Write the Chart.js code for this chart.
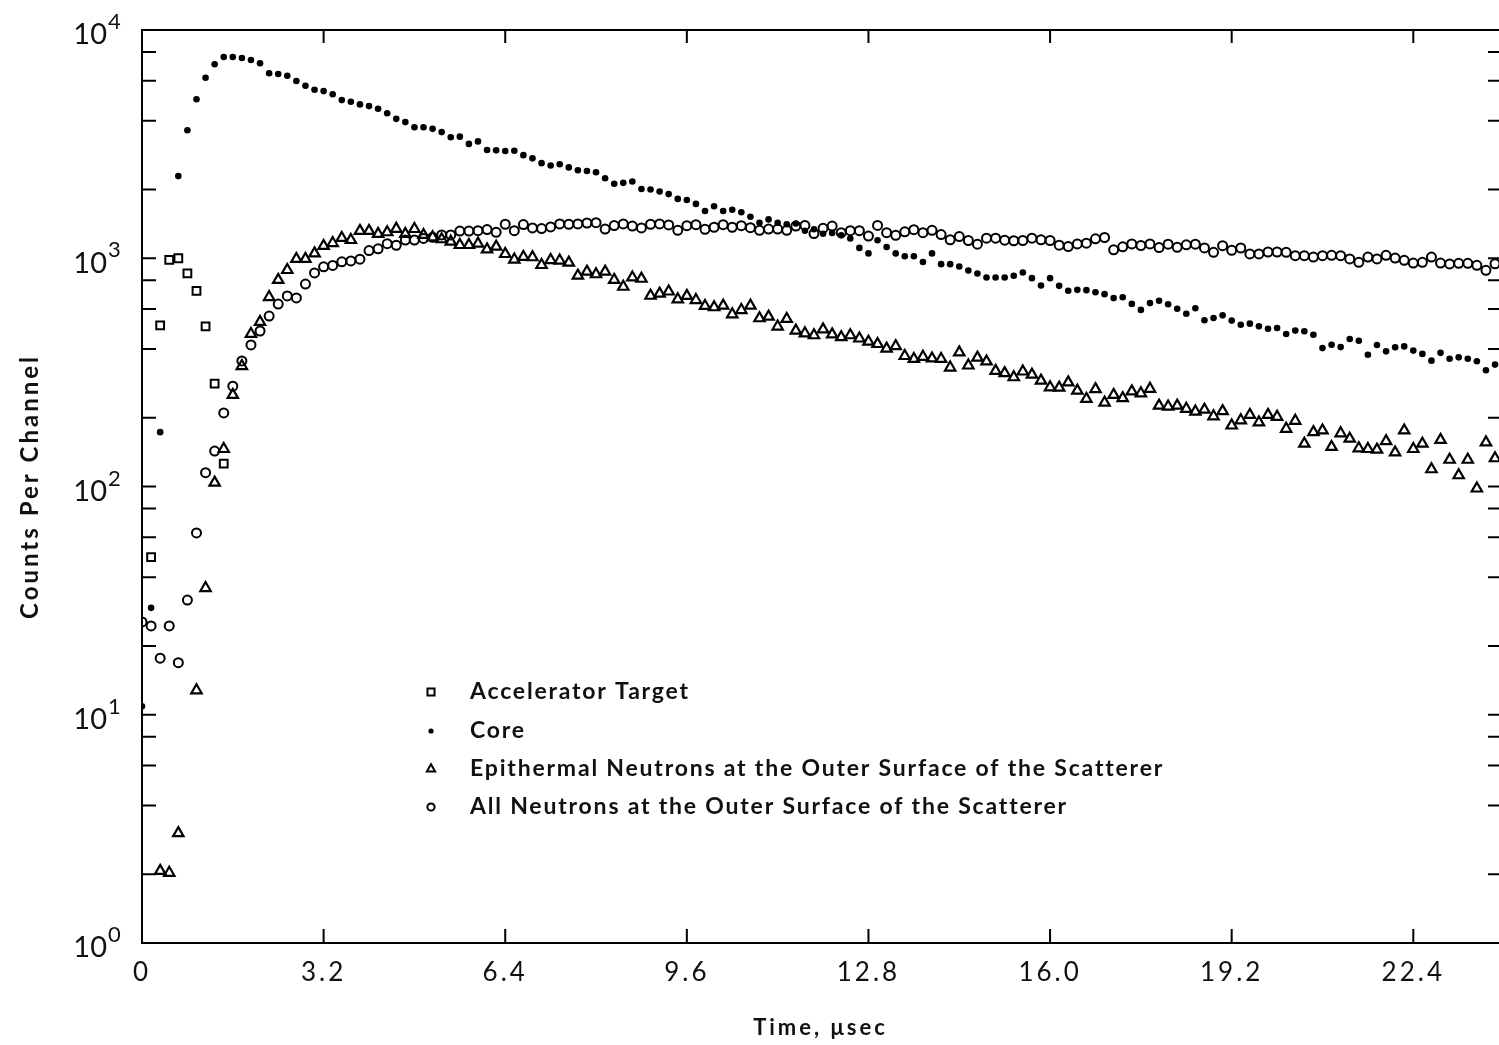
<!DOCTYPE html>
<html>
<head>
<meta charset="utf-8">
<script src="https://cdn.jsdelivr.net/npm/chart.js@4.4.1/dist/chart.umd.min.js"></script>
<style>
  html, body { margin: 0; padding: 0; background: #fff; }
  canvas { display: block; }
</style>
</head>
<body>
<canvas id="decay-chart" width="1499" height="1045"></canvas>
<script>
// analyser channel width, usec; every series below is one value per channel (null = no point)
const channelWidth = 0.16;

const acceleratorTarget = [null, 49, 508, 983, 1000, 859, 719, 503, 282, 126];

const core = [
  10.9, 29.4, 173, null, 2290, 3640, 4970, 6180, 7080, 7620,
  7620, 7540, 7390, 7150, 6460, 6420, 6300, 5980, 5700, 5470,
  5400, 5230, 4930, 4850, 4720, 4640, 4520, 4320, 4080, 3950,
  3750, 3750, 3690, 3570, 3390, 3410, 3170, 3250, 2980, 2970,
  2950, 2960, 2830, 2740, 2610, 2550, 2580, 2500, 2430, 2410,
  2380, 2240, 2120, 2140, 2170, 2010, 2000, 1960, 1910, 1820,
  1800, 1730, 1610, 1690, 1610, 1630, 1590, 1520, 1430, 1480,
  1430, 1410, 1420, 1320, 1340, 1280, 1290, 1260, 1220, 1110,
  1050, 1200, 1120, 1050, 1020, 1020, 963, 1050, 942, 942,
  920, 884, 857, 823, 823, 823, 838, 866, 818, 760,
  818, 757, 720, 727, 725, 710, 696, 669, 675, 631,
  594, 636, 651, 629, 601, 571, 604, 535, 547, 562,
  533, 511, 517, 503, 491, 495, 466, 482, 479, 462,
  404, 418, 408, 443, 435, 378, 417, 391, 407, 411,
  394, 381, 356, 385, 363, 368, 363, 354, 323, 342
];

const epithermal = [
  null, null, 2.07, 2.03, 3.03, null, 12.8, 35.9, 104, 146,
  252, 337, 466, 526, 676, 804, 888, 993, 993, 1050,
  1132, 1166, 1227, 1202, 1318, 1318, 1279, 1300, 1346, 1277,
  1343, 1265, 1236, 1211, 1183, 1143, 1143, 1159, 1094, 1124,
  1044, 987, 1013, 1010, 934, 982, 977, 957, 839, 874,
  851, 874, 804, 750, 824, 813, 685, 700, 715, 661,
  684, 656, 618, 610, 620, 568, 593, 620, 546, 555,
  502, 542, 482, 469, 460, 488, 464, 451, 460, 445,
  431, 421, 402, 412, 373, 362, 370, 364, 362, 332,
  387, 339, 367, 353, 321, 314, 301, 319, 309, 291,
  272, 271, 286, 263, 242, 267, 233, 252, 244, 261,
  256, 268, 226, 224, 226, 219, 213, 217, 203, 214,
  185, 195, 206, 191, 206, 202, 179, 194, 154, 173,
  176, 149, 171, 162, 147, 146, 145, 158, 141, 176,
  146, 154, 119, 160, 131, 112, 131, 98, 156, 133
];

const allNeutrons = [
  25.5, 24.5, 17.7, 24.5, 16.9, 31.8, 62.6, 115, 143, 210,
  275, 355, 417, 480, 558, 630, 684, 670, 771, 862,
  917, 930, 965, 973, 991, 1080, 1100, 1158, 1140, 1202,
  1202, 1222, 1235, 1265, 1265, 1316, 1316, 1321, 1336, 1300,
  1409, 1321, 1404, 1358, 1349, 1371, 1413, 1409, 1413, 1427,
  1432, 1343, 1390, 1413, 1384, 1358, 1409, 1413, 1400, 1325,
  1389, 1403, 1340, 1367, 1403, 1367, 1389, 1361, 1325, 1343,
  1343, 1325, 1384, 1393, 1282, 1352, 1384, 1294, 1321, 1321,
  1251, 1393, 1294, 1260, 1306, 1334, 1294, 1325, 1270, 1205,
  1245, 1196, 1153, 1224, 1224, 1200, 1193, 1196, 1224, 1205,
  1196, 1141, 1125, 1156, 1164, 1217, 1233, 1089, 1122, 1156,
  1137, 1156, 1114, 1153, 1117, 1145, 1153, 1110, 1062, 1135,
  1084, 1109, 1044, 1044, 1065, 1065, 1062, 1026, 1026, 1012,
  1026, 1030, 1026, 993, 960, 1012, 993, 1030, 1002, 979,
  953, 960, 1012, 953, 944, 950, 950, 931, 885, 946
];

const xTickValues = [0, 3.2, 6.4, 9.6, 12.8, 16.0, 19.2, 22.4];
const xTickLabels = ['0', '3.2', '6.4', '9.6', '12.8', '16.0', '19.2', '22.4'];
const yTickValues = [1, 2, 4, 6, 8, 10, 20, 40, 60, 80, 100, 200, 400, 600, 800,
  1000, 2000, 4000, 6000, 8000, 10000];
const yLabelValues = [1, 10, 100, 1000, 10000];
const yLabelExponents = ['0', '1', '2', '3', '4'];

const FONT = 'Lato, "DejaVu Sans", sans-serif';

function toPoints(values) {
  const pts = [];
  values.forEach((v, k) => {
    if (v !== null) pts.push({ x: +(k * channelWidth).toFixed(2), y: v });
  });
  return pts;
}

const framePlugin = {
  id: 'frame',
  beforeDraw(chart) {
    chart.ctx.letterSpacing = '3px';
  },
  afterDraw(chart) {
    const { ctx, chartArea: a, scales: { x, y } } = chart;
    ctx.save();
    ctx.strokeStyle = '#000';
    ctx.lineWidth = 2;

    // top edge of the frame
    ctx.beginPath();
    ctx.moveTo(a.left, a.top);
    ctx.lineTo(a.right, a.top);
    ctx.stroke();

    // inward tick marks on all four sides
    ctx.beginPath();
    xTickValues.forEach(v => {
      if (v === 0) return;
      const px = x.getPixelForValue(v);
      ctx.moveTo(px, a.bottom);
      ctx.lineTo(px, a.bottom - 14);
      ctx.moveTo(px, a.top);
      ctx.lineTo(px, a.top + 13);
    });
    yTickValues.forEach(v => {
      const py = y.getPixelForValue(v);
      ctx.moveTo(a.left, py);
      ctx.lineTo(a.left + 14, py);
      ctx.moveTo(a.right, py);
      ctx.lineTo(a.right - 11, py);
    });
    ctx.stroke();

    // 10^n labels
    ctx.fillStyle = '#111';
    ctx.letterSpacing = '0px';
    yLabelValues.forEach((v, i) => {
      const py = y.getPixelForValue(v);
      ctx.font = '29px ' + FONT;
      ctx.textAlign = 'right';
      ctx.textBaseline = 'middle';
      ctx.fillText('10', a.left - 35, py + 5);
      ctx.font = '22px ' + FONT;
      ctx.textAlign = 'left';
      ctx.fillText(yLabelExponents[i], a.left - 34, py - 8);
    });

    // legend inside the plot
    const rowY = [692, 731, 769, 807];
    const symbolRadius = [5, 2.6, 4.8, 3.6];
    ctx.letterSpacing = '1.8px';
    ctx.font = 'bold 23px ' + FONT;
    ctx.textAlign = 'left';
    ctx.textBaseline = 'middle';
    chart.data.datasets.forEach((ds, i) => {
      ctx.save();
      ctx.lineWidth = 2;
      ctx.strokeStyle = '#000';
      ctx.fillStyle = ds.backgroundColor;
      Chart.helpers.drawPoint(ctx, {
        pointStyle: ds.pointStyle,
        rotation: 0,
        radius: symbolRadius[i],
        borderWidth: ds.borderWidth
      }, 431, rowY[i]);
      ctx.restore();
      ctx.fillText(ds.label, 470, rowY[i]);
    });
    ctx.restore();
  }
};

const hollow = 'rgba(0,0,0,0)';

new Chart(document.getElementById('decay-chart').getContext('2d'), {
  type: 'scatter',
  data: {
    datasets: [{
      label: 'Accelerator Target',
      data: toPoints(acceleratorTarget),
      pointStyle: 'rect',
      pointRadius: 5.5,
      borderWidth: 2,
      borderColor: '#000',
      backgroundColor: hollow,
    }, {
      label: 'Core',
      data: toPoints(core),
      pointStyle: 'circle',
      pointRadius: 3.3,
      borderWidth: 0,
      borderColor: '#000',
      backgroundColor: '#000',
    }, {
      label: 'Epithermal Neutrons at the Outer Surface of the Scatterer',
      data: toPoints(epithermal),
      pointStyle: 'triangle',
      pointRadius: 6,
      borderWidth: 2.2,
      borderColor: '#000',
      backgroundColor: hollow,
    }, {
      label: 'All Neutrons at the Outer Surface of the Scatterer',
      data: toPoints(allNeutrons),
      pointStyle: 'circle',
      pointRadius: 4.5,
      borderWidth: 2,
      borderColor: '#000',
      backgroundColor: hollow,
    }],
  },
  options: {
    responsive: false,
    animation: false,
    devicePixelRatio: 1,
    layout: { autoPadding: false, padding: { top: 30, right: 0, bottom: 0, left: 0 } },
    plugins: {
      legend: { display: false },
      tooltip: { enabled: false },
    },
    scales: {
      x: {
        type: 'linear',
        min: 0,
        max: 23.91,
        afterFit: (scale) => { scale.height = 102; },
        afterBuildTicks: (scale) => { scale.ticks = xTickValues.map(v => ({ value: v })); },
        ticks: {
          callback: (value, index) => xTickLabels[index],
          autoSkip: false,
          maxRotation: 0,
          padding: 14,
          color: '#111',
          font: { family: FONT, size: 26 },
        },
        grid: { display: false, drawTicks: false },
        border: { display: true, color: '#000', width: 2 },
        title: {
          display: true,
          text: 'Time, μsec',
          color: '#111',
          font: { family: FONT, size: 22, weight: 'bold' },
          padding: { top: 0, bottom: 4 },
        },
      },
      y: {
        type: 'logarithmic',
        min: 1,
        max: 10000,
        afterFit: (scale) => { scale.width = 142; },
        ticks: { display: false },
        grid: { display: false, drawTicks: false },
        border: { display: true, color: '#000', width: 2 },
        title: {
          display: true,
          text: 'Counts Per Channel',
          color: '#111',
          font: { family: FONT, size: 24, weight: 'bold' },
          padding: { top: 16, bottom: 0 },
        },
      },
    },
  },
  plugins: [framePlugin],
});
</script>
</body>
</html>
